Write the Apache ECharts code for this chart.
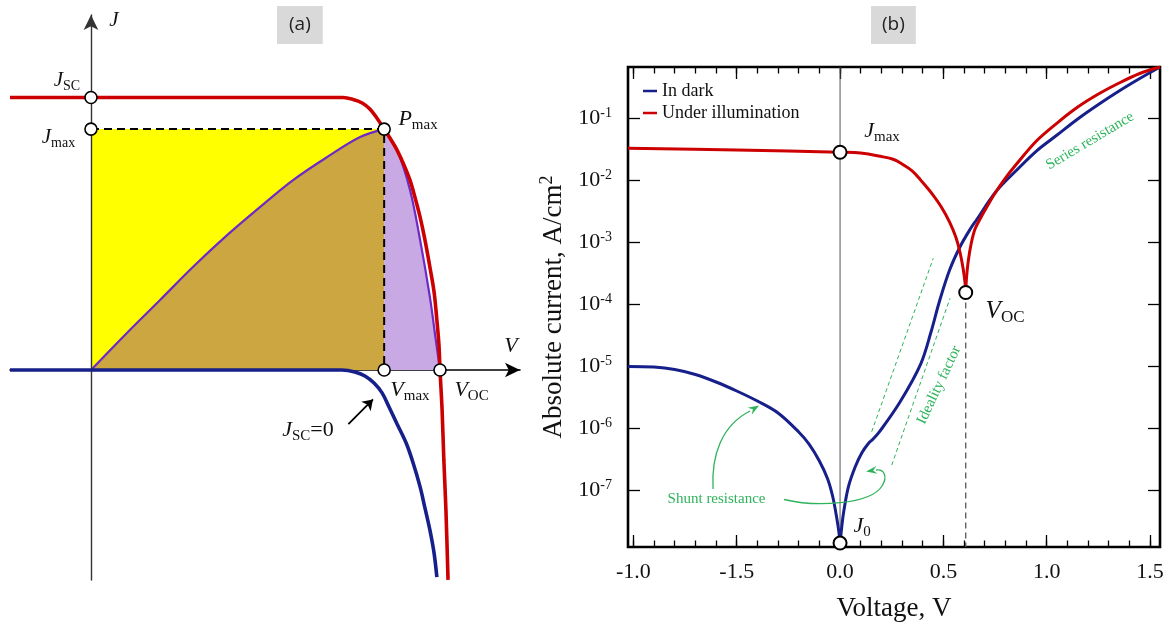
<!DOCTYPE html>
<html>
<head>
<meta charset="utf-8">
<script src="https://cdn.jsdelivr.net/npm/echarts@6/dist/echarts.min.js"></script>
<style>
  html, body { margin: 0; padding: 0; background: #ffffff; }
  #main { width: 1175px; height: 628px; }
</style>
</head>
<body>
<div id="main"></div>
<script>
// ---------- Panel (a): schematic J–V curves, normalised so that V_OC = 1 and J_SC = 1 ----------
const jvLightV = [-0.232, 0.600, 0.722, 0.751, 0.777, 0.799, 0.819, 0.840, 0.860, 0.877, 0.897, 0.914, 0.928, 0.943, 0.957, 0.971, 0.983, 0.991, 0.997, 1.000, 1.006, 1.011, 1.017, 1.023];
const jvLightJ = [1.0, 1.0, 1.0, 0.993, 0.980, 0.958, 0.925, 0.884, 0.844, 0.807, 0.752, 0.697, 0.635, 0.561, 0.477, 0.378, 0.286, 0.183, 0.092, 0.0, -0.147, -0.330, -0.514, -0.770];
const jvDarkV = [-0.232, 0.600, 0.719, 0.756, 0.785, 0.811, 0.834, 0.854, 0.877, 0.903, 0.923, 0.943, 0.957, 0.971, 0.983, 0.991];
const jvDarkJ = [0, 0, 0, -0.007, -0.022, -0.048, -0.084, -0.136, -0.198, -0.268, -0.341, -0.429, -0.507, -0.587, -0.672, -0.760];
// output power V·J, scaled so that its peak equals J_max
const powerV = [0, 0.103, 0.198, 0.292, 0.390, 0.484, 0.579, 0.676, 0.771, 0.840, 0.877, 0.914, 0.943, 0.971, 0.988, 1.000];
const powerP = [0, 0.136, 0.257, 0.378, 0.495, 0.598, 0.697, 0.781, 0.855, 0.884, 0.807, 0.661, 0.477, 0.268, 0.110, 0];
const vMax = 0.840, jMax = 0.884, jSc = 1.0, vOc = 1.0;

// ---------- Panel (b): absolute current density vs voltage (log scale) ----------
const darkV = [-1.026, -0.90, -0.80, -0.70, -0.60, -0.50, -0.40, -0.30, -0.20, -0.15, -0.10, -0.06, -0.035, -0.016, -0.005, 0.0,
               0.005, 0.016, 0.040, 0.073, 0.105, 0.137, 0.160, 0.190, 0.290, 0.390, 0.440, 0.480, 0.530, 0.580, 0.630, 0.660,
               0.754, 0.850, 0.950, 1.050, 1.150, 1.250, 1.350, 1.450, 1.548];
const darkJ = [1.00e-5, 9.77e-6, 8.91e-6, 7.41e-6, 5.61e-6, 4.02e-6, 2.77e-6, 1.78e-6, 8.79e-7, 5.62e-7, 3.00e-7, 1.54e-7, 7.89e-8, 3.62e-8, 2.07e-8, 1.43e-8,
               2.07e-8, 4.20e-8, 1.14e-7, 2.40e-7, 4.03e-7, 5.73e-7, 6.77e-7, 8.79e-7, 2.67e-6, 1.09e-5, 3.58e-5, 1.09e-4, 3.56e-4, 8.38e-4, 1.63e-3, 2.28e-3,
               6.50e-3, 0.0140, 0.0294, 0.0532, 0.0964, 0.165, 0.272, 0.432, 0.663];
const lightV = [-1.026, -0.50, 0.0, 0.10, 0.20, 0.26, 0.30, 0.35, 0.39, 0.45, 0.49, 0.53, 0.56, 0.58, 0.595, 0.605, 0.608,
                0.612, 0.621, 0.635, 0.653, 0.680, 0.710, 0.754, 0.800, 0.850, 0.950, 1.050, 1.150, 1.250, 1.350, 1.450, 1.548];
const lightJ = [0.0325, 0.0305, 0.0281, 0.0273, 0.0240, 0.0215, 0.0182, 0.0140, 0.0100, 0.00575, 0.00369, 0.00211, 0.00121, 6.95e-4, 3.85e-4, 2.20e-4, 1.55e-4,
                2.75e-4, 5.16e-4, 9.70e-4, 1.63e-3, 2.45e-3, 3.69e-3, 6.50e-3, 0.0108, 0.0175, 0.0427, 0.0830, 0.150, 0.243, 0.366, 0.521, 0.663];
const jMaxB = 0.0281, vOcB = 0.608, jOcB = 1.55e-4, j0B = 1.43e-8;
// guide lines parallel to the diffusion region (ideality factor)
const guide1V = [0.153, 0.451], guide1J = [8.87e-7, 5.51e-4];
const guide2V = [0.250, 0.532], guide2J = [2.58e-7, 1.25e-4];

const xTickValues = [-1.0, -0.5, 0.0, 0.5, 1.0, 1.5];
const xTickLabels = ['-1.0', '-1.5', '0.0', '0.5', '1.0', '1.5'];
const xMinorTicks = [-1.0, -0.9, -0.8, -0.7, -0.6, -0.5, -0.4, -0.3, -0.2, -0.1, 0.0, 0.1, 0.2, 0.3, 0.4, 0.5,
                     0.6, 0.7, 0.8, 0.9, 1.0, 1.1, 1.2, 1.3, 1.4, 1.5];
const yTickExps = [-7, -6, -5, -4, -3, -2, -1];

// ---------- styling ----------
const SERIF = '"Liberation Serif", "DejaVu Serif", serif';
const INK = '#111111';
const RED = '#cc0000', NAVY = '#17208a', PURPLE = '#6e2bc4';
const YELLOW = '#ffff00', OCHRE = '#cca640', LAVENDER = '#c9a9e3', GREEN = '#2eb35b';

// axis extents
const A_VMIN = -0.232, A_VMAX = 1.2292, A_JMIN = -0.7706, A_JMAX = 1.3028;
const B_VMIN = -1.026, B_VMAX = 1.548, B_JMIN = 1.236e-8, B_JMAX = 0.663;

const pairs = (xs, ys) => xs.map((x, i) => [x, ys[i]]);
const yTickValues = yTickExps.map(e => Math.pow(10, e));

const powerLeft = pairs(powerV, powerP).filter(p => p[0] <= vMax);
const powerRight = pairs(powerV, powerP).filter(p => p[0] >= vMax);
// each log-scale curve has a cusp where the current changes sign; the branches are drawn separately
const darkLeft = pairs(darkV, darkJ).filter(p => p[0] <= 0);
const darkRight = pairs(darkV, darkJ).filter(p => p[0] >= 0);
const lightLeft = pairs(lightV, lightJ).filter(p => p[0] <= vOcB);
const lightRight = pairs(lightV, lightJ).filter(p => p[0] >= vOcB);

function xTickAxis(position, values, len, withLabels) {
  const ax = {
    gridIndex: 1, type: 'value', position: position, min: B_VMIN, max: B_VMAX,
    axisLine: { show: false, onZero: false },
    axisTick: { show: true, inside: true, length: len, customValues: values,
                lineStyle: { color: '#000', width: 1.3 } },
    axisLabel: { show: false },
    splitLine: { show: false }
  };
  if (withLabels) {
    ax.axisLabel = {
      show: true, customValues: xTickValues, margin: 14,
      fontFamily: SERIF, fontSize: 22, color: INK,
      formatter: v => {
        const i = xTickValues.findIndex(t => Math.abs(t - v) < 1e-6);
        return i >= 0 ? xTickLabels[i] : '';
      }
    };
    ax.name = 'Voltage, V';
    ax.nameLocation = 'middle';
    ax.nameGap = 48;
    ax.nameTextStyle = { fontFamily: SERIF, fontSize: 27, color: INK };
  }
  return ax;
}

function yLogAxis(position, withLabels) {
  const ax = {
    gridIndex: 1, type: 'log', logBase: 10, position: position, min: B_JMIN, max: B_JMAX,
    axisLine: { show: false, onZero: false },
    axisTick: { show: true, inside: true, length: 12, customValues: yTickValues,
                lineStyle: { color: '#000', width: 1.3 } },
    axisLabel: { show: false },
    splitLine: { show: false }
  };
  if (withLabels) {
    ax.axisLabel = {
      show: true, customValues: yTickValues, margin: 16,
      formatter: v => '{b|10}{e|' + Math.round(Math.log10(v)) + '}',
      rich: {
        b: { fontFamily: SERIF, fontSize: 22, lineHeight: 24, color: INK },
        e: { fontFamily: SERIF, fontSize: 14, lineHeight: 14, verticalAlign: 'top', color: INK }
      }
    };
    ax.name = 'Absolute current, A/cm{sup|2}';
    ax.nameLocation = 'middle';
    ax.nameRotate = 90;
    ax.nameGap = 58;
    ax.nameTextStyle = {
      fontFamily: SERIF, fontSize: 27, lineHeight: 32, color: INK,
      rich: { sup: { fontFamily: SERIF, fontSize: 18, lineHeight: 18, verticalAlign: 'top', color: INK } }
    };
  }
  return ax;
}

function curveB(name, data, color) {
  return { name: name, type: 'line', xAxisIndex: 1, yAxisIndex: 1, silent: true, symbol: 'none', z: 4,
           color: color, data: data, smooth: 0.35, lineStyle: { color: color, width: 3 } };
}

const option = {
  animation: false,
  backgroundColor: '#ffffff',
  title: [
    { text: '(a)', left: 277, top: 6, padding: [7, 12, 7, 12], backgroundColor: '#d9d9d9',
      textStyle: { fontFamily: '"Open Sans", "Liberation Sans", sans-serif', fontSize: 19, fontWeight: 'normal', color: '#222', lineHeight: 24 } },
    { text: '(b)', left: 871, top: 6, padding: [7, 11, 7, 11], backgroundColor: '#d9d9d9',
      textStyle: { fontFamily: '"Open Sans", "Liberation Sans", sans-serif', fontSize: 19, fontWeight: 'normal', color: '#222', lineHeight: 24 } }
  ],
  legend: {
    data: ['In dark', 'Under illumination'],
    orient: 'vertical', left: 643, top: 82, padding: 0, itemGap: 4,
    icon: 'rect', itemWidth: 14, itemHeight: 2.5, selectedMode: false,
    textStyle: { fontFamily: SERIF, fontSize: 18, color: INK }
  },
  grid: [
    { left: 10, top: 15, width: 510, height: 565, show: false, outerBoundsMode: 'none' },
    { left: 628, top: 67, width: 532, height: 480, show: true, borderColor: '#000', borderWidth: 2.6,
      backgroundColor: 'transparent', outerBoundsMode: 'none' }
  ],
  xAxis: [
    { gridIndex: 0, type: 'value', min: A_VMIN, max: A_VMAX,
      axisLine: { show: true, onZero: true, symbol: ['none', 'arrow'], symbolSize: [11, 15],
                  lineStyle: { color: '#000', width: 1.6 } },
      axisTick: { show: false }, axisLabel: { show: false }, splitLine: { show: false } },
    xTickAxis('bottom', xTickValues, 12, true),
    xTickAxis('bottom', xMinorTicks, 6.5, false),
    xTickAxis('top', xTickValues, 12, false),
    xTickAxis('top', xMinorTicks, 6.5, false)
  ],
  yAxis: [
    { gridIndex: 0, type: 'value', min: A_JMIN, max: A_JMAX, z: 3,
      axisLine: { show: true, onZero: true, symbol: ['none', 'arrow'], symbolSize: [11, 15],
                  lineStyle: { color: '#333', width: 1.4 } },
      axisTick: { show: false }, axisLabel: { show: false }, splitLine: { show: false } },
    yLogAxis('left', true),
    yLogAxis('right', false)
  ],
  series: [
    // ----- panel (a) -----
    { type: 'line', xAxisIndex: 0, yAxisIndex: 0, silent: true, symbol: 'none', z: 1,
      data: [[0, jMax], [vMax, jMax]], lineStyle: { width: 0 }, areaStyle: { color: YELLOW, opacity: 1 } },
    { type: 'line', xAxisIndex: 0, yAxisIndex: 0, silent: true, symbol: 'none', z: 2, smooth: 0.35,
      data: powerLeft, lineStyle: { color: PURPLE, width: 2.2 }, areaStyle: { color: OCHRE, opacity: 1 } },
    { type: 'line', xAxisIndex: 0, yAxisIndex: 0, silent: true, symbol: 'none', z: 2, smooth: 0.35,
      data: powerRight, lineStyle: { color: PURPLE, width: 2.2 }, areaStyle: { color: LAVENDER, opacity: 1 } },
    { type: 'line', xAxisIndex: 0, yAxisIndex: 0, silent: true, symbol: 'none', z: 3,
      data: [[0, jMax], [vMax, jMax], [vMax, 0]],
      lineStyle: { color: '#000', width: 2, type: [8, 5] } },
    { type: 'line', xAxisIndex: 0, yAxisIndex: 0, silent: true, symbol: 'none', z: 4, smooth: 0.35,
      data: pairs(jvDarkV, jvDarkJ), lineStyle: { color: NAVY, width: 3.6 },
      markLine: {
        silent: true, symbol: ['none', 'arrow'], symbolSize: 10, animation: false,
        lineStyle: { color: '#000', width: 1.8, type: 'solid' }, label: { show: false },
        data: [[{ coord: [0.7375, -0.1982] }, { coord: [0.8080, -0.1080] }]]
      } },
    { type: 'line', xAxisIndex: 0, yAxisIndex: 0, silent: true, symbol: 'none', z: 4, smooth: 0.35,
      data: pairs(jvLightV, jvLightJ), lineStyle: { color: RED, width: 3.6 } },
    { type: 'scatter', xAxisIndex: 0, yAxisIndex: 0, silent: true, z: 6,
      data: [[0, jSc], [0, jMax], [vMax, jMax], [vMax, 0], [vOc, 0]],
      symbol: 'circle', symbolSize: 12,
      itemStyle: { color: '#ffffff', borderColor: '#000', borderWidth: 1.6, opacity: 1 } },

    // ----- panel (b) -----
    { type: 'line', xAxisIndex: 1, yAxisIndex: 1, silent: true, symbol: 'none', z: 2,
      data: [[0, B_JMIN], [0, B_JMAX]], lineStyle: { color: '#555', width: 1 } },
    { type: 'line', xAxisIndex: 1, yAxisIndex: 1, silent: true, symbol: 'none', z: 2,
      data: [[vOcB, jOcB], [vOcB, B_JMIN]], lineStyle: { color: '#555', width: 1.3, type: [6, 4] } },
    { type: 'line', xAxisIndex: 1, yAxisIndex: 1, silent: true, symbol: 'none', z: 2,
      data: pairs(guide1V, guide1J), lineStyle: { color: GREEN, width: 1, type: [4, 3] } },
    { type: 'line', xAxisIndex: 1, yAxisIndex: 1, silent: true, symbol: 'none', z: 2,
      data: pairs(guide2V, guide2J), lineStyle: { color: GREEN, width: 1, type: [4, 3] } },
    curveB('In dark', darkLeft, NAVY),
    curveB('In dark', darkRight, NAVY),
    curveB('Under illumination', lightLeft, RED),
    curveB('Under illumination', lightRight, RED),
    { type: 'scatter', xAxisIndex: 1, yAxisIndex: 1, silent: true, z: 6,
      data: [[0, jMaxB], [vOcB, jOcB], [0, j0B]],
      symbol: 'circle', symbolSize: 13,
      itemStyle: { color: '#ffffff', borderColor: '#000', borderWidth: 2, opacity: 1 } }
  ]
};

const chart = echarts.init(document.getElementById('main'), null, { renderer: 'canvas' });
chart.setOption(option);

// ---------- annotations, anchored in data coordinates ----------
const pa = (v, j) => chart.convertToPixel({ xAxisIndex: 0, yAxisIndex: 0 }, [v, j]);
const pb = (v, lg) => chart.convertToPixel({ xAxisIndex: 1, yAxisIndex: 1 }, [v, Math.pow(10, lg)]);

function mathLabel(p, main, sub, size, tail) {
  const s = Math.round(size * 0.68);
  const L = Math.round(size * 1.25);
  let text = '{m|' + main + '}';
  if (sub) text += '{s|' + sub + '}';
  if (tail) text += '{n|' + tail + '}';
  return {
    type: 'text', x: p[0], y: p[1], z: 20, silent: true,
    style: {
      text: text, align: 'center', verticalAlign: 'middle',
      rich: {
        m: { fontFamily: SERIF, fontStyle: 'italic', fontSize: size, lineHeight: L, fill: INK },
        s: { fontFamily: SERIF, fontSize: s, lineHeight: s, verticalAlign: 'bottom', fill: INK },
        n: { fontFamily: SERIF, fontSize: size, lineHeight: L, fill: INK }
      }
    }
  };
}

function greenText(p, text, angleDeg) {
  return {
    type: 'text', x: p[0], y: p[1], z: 20, silent: true,
    rotation: (angleDeg || 0) * Math.PI / 180,
    style: { text: text, align: 'center', verticalAlign: 'middle',
             fontFamily: SERIF, fontSize: 15, fill: GREEN }
  };
}

function curve(a, c1, c2, b) {
  return {
    type: 'bezierCurve', z: 15, silent: true,
    shape: { x1: a[0], y1: a[1], cpx1: c1[0], cpy1: c1[1], cpx2: c2[0], cpy2: c2[1], x2: b[0], y2: b[1] },
    style: { stroke: GREEN, lineWidth: 1.3, fill: null }
  };
}

function arrowHead(from, tip, len, wid) {
  const dx = tip[0] - from[0], dy = tip[1] - from[1];
  const d = Math.hypot(dx, dy) || 1;
  const ux = dx / d, uy = dy / d, nx = -uy, ny = ux;
  const bx = tip[0] - ux * len, by = tip[1] - uy * len;
  return {
    type: 'polygon', z: 16, silent: true,
    shape: { points: [tip, [bx + nx * wid / 2, by + ny * wid / 2],
                      [tip[0] - ux * len * 0.65, tip[1] - uy * len * 0.65],
                      [bx - nx * wid / 2, by - ny * wid / 2]] },
    style: { fill: GREEN }
  };
}

const shuntL = [pb(-0.6144, -6.974), pb(-0.6241, -6.427), pb(-0.5709, -5.944), pb(-0.4354, -5.718)];
const shuntLTip = pb(-0.3919, -5.630);
const shuntR1 = [pb(-0.2709, -7.143), pb(-0.1209, -7.264), pb(0.1451, -7.232), pb(0.2032, -6.926)];
const shuntR2 = [pb(0.2032, -6.926), pb(0.2322, -6.765), pb(0.2129, -6.652), pb(0.1742, -6.668)];
const shuntRTip = pb(0.1258, -6.692);

const elements = [
  // panel (a)
  mathLabel(pa(0.0659, 1.2844), 'J', '', 21),
  mathLabel(pa(-0.0688, 1.0642), 'J', 'SC', 21),
  mathLabel(pa(-0.0931, 0.8550), 'J', 'max', 21),
  mathLabel(pa(0.937, 0.9211), 'P', 'max', 22),
  mathLabel(pa(1.2034, 0.0881), 'V', '', 22),
  mathLabel(pa(0.914, -0.0734), 'V', 'max', 22),
  mathLabel(pa(1.0903, -0.0734), 'V', 'OC', 22),
  mathLabel(pa(0.6218, -0.2202), 'J', 'SC', 22, '=0'),
  // panel (b)
  mathLabel(pb(0.2032, -1.209), 'J', 'max', 22),
  mathLabel(pb(0.7983, -4.108), 'V', 'OC', 25),
  mathLabel(pb(0.1064, -7.570), 'J', '0', 22),
  greenText(pb(-0.5975, -7.135), 'Shunt resistance', 0),
  greenText(pb(0.479, -5.300), 'Ideality factor', 64.6),
  greenText(pb(1.2095, -1.370), 'Series resistance', 30.7),
  curve(shuntL[0], shuntL[1], shuntL[2], shuntL[3]),
  arrowHead(shuntL[3], shuntLTip, 11, 8),
  curve(shuntR1[0], shuntR1[1], shuntR1[2], shuntR1[3]),
  curve(shuntR2[0], shuntR2[1], shuntR2[2], shuntR2[3]),
  arrowHead(shuntR2[3], shuntRTip, 11, 8)
];

chart.setOption({ graphic: { elements: elements } });
</script>
</body>
</html>
